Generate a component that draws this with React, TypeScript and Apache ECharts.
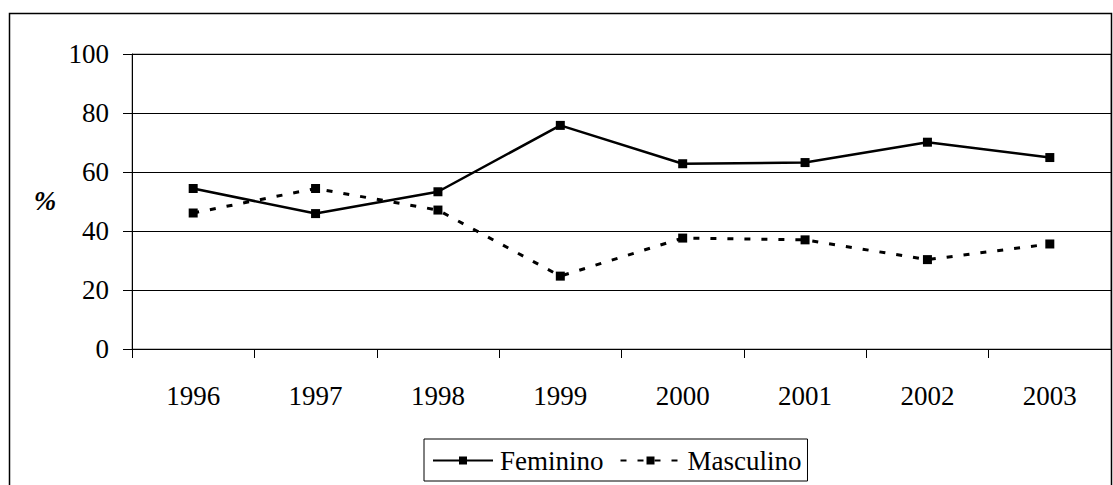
import React, { useEffect, useRef } from "react";
import * as echarts from "echarts";

const years = ["1996", "1997", "1998", "1999", "2000", "2001", "2002", "2003"];
const feminino = [54.4, 45.9, 53.3, 75.8, 62.8, 63.2, 70.1, 64.9];
const masculino = [46.1, 54.4, 47.1, 24.7, 37.6, 37.0, 30.3, 35.6];
const yTicks = [0, 20, 40, 60, 80, 100];

const FONT = "Liberation Serif";

export default function App() {
  const ref = useRef<HTMLDivElement>(null);
  useEffect(() => {
    if (!ref.current) return;
    const chart = echarts.init(ref.current, null, { renderer: "svg" });
    chart.setOption({
      animation: false,
      backgroundColor: "#ffffff",
      graphic: [
        {
          type: "rect",
          shape: { x: 9.5, y: 13.5, width: 1102, height: 490 },
          style: { fill: "none", stroke: "#000", lineWidth: 1.5 },
          silent: true,
        },
        {
          type: "text",
          x: 45,
          y: 201,
          style: {
            text: "%",
            fontFamily: FONT,
            fontSize: 27,
            fontStyle: "italic",
            fontWeight: "bold",
            fill: "#000",
            align: "center",
            verticalAlign: "middle",
          },
        },
      ],
      grid: {
        left: 132,
        right: 2,
        top: 54,
        bottom: 136,
        show: true,
        borderColor: "#808080",
        borderWidth: 1,
      },
      legend: {
        left: 424,
        top: 439,
        padding: [8, 6, 7, 8],
        borderColor: "#000",
        borderWidth: 1,
        itemWidth: 60,
        itemHeight: 10,
        itemGap: 16,
        textStyle: {
          fontFamily: FONT,
          fontSize: 27,
          color: "#000",
          padding: [0, 0, 0, 2],
        },
        data: ["Feminino", "Masculino"],
      },
      xAxis: {
        type: "category",
        data: years,
        boundaryGap: true,
        axisLine: { lineStyle: { color: "#000", width: 1 } },
        axisTick: { show: true, length: 9, lineStyle: { color: "#000" } },
        axisLabel: {
          margin: 33,
          fontFamily: FONT,
          fontSize: 27,
          color: "#000",
        },
        splitLine: { show: false },
      },
      yAxis: {
        type: "value",
        min: 0,
        max: 100,
        interval: 20,
        axisLine: { show: true, lineStyle: { color: "#000", width: 1 } },
        axisTick: { show: true, length: 9, lineStyle: { color: "#000" } },
        axisLabel: {
          margin: 23,
          fontFamily: FONT,
          fontSize: 27,
          color: "#000",
          formatter: (v: number) => (yTicks.includes(v) ? String(v) : ""),
        },
        splitLine: { show: true, lineStyle: { color: "#000", width: 1 } },
      },
      series: [
        {
          name: "Feminino",
          type: "line",
          data: feminino,
          symbol: "rect",
          symbolSize: 9,
          itemStyle: { color: "#000" },
          lineStyle: { color: "#000", width: 2.5, type: "solid" },
        },
        {
          name: "Masculino",
          type: "line",
          data: masculino,
          symbol: "rect",
          symbolSize: 9,
          itemStyle: { color: "#000" },
          lineStyle: { color: "#000", width: 3, type: [6, 11] },
        },
      ],
    });
    return () => chart.dispose();
  }, []);
  return (
    <div
      ref={ref}
      style={{ position: "fixed", left: 0, top: 0, width: 1113, height: 485 }}
    />
  );
}
